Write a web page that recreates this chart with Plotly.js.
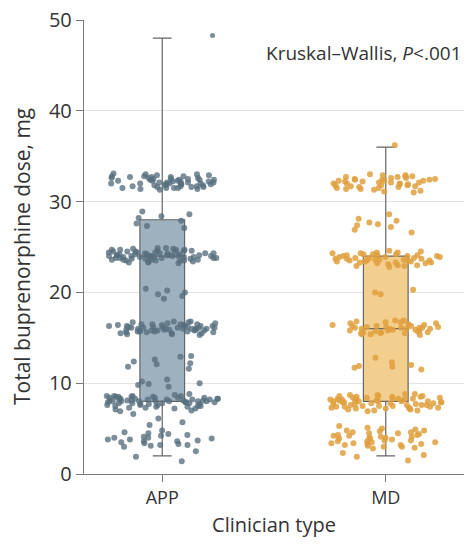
<!DOCTYPE html>
<html>
<head>
<meta charset="utf-8">
<script src="https://cdn.plot.ly/plotly-3.0.1.min.js"></script>
<style>html,body{margin:0;padding:0;background:#fff;}#chart{width:466px;height:546px;}</style>
</head>
<body>
<div id="chart"></div>
<script>
// Categories
const categories = ['APP', 'MD'];
const tickLabelsY = [0, 10, 20, 30, 40, 50];

// Box statistics
const q1Vals = [8, 8];
const medianVals = [24, 16];
const q3Vals = [28, 24];
const lowerVals = [2, 2];
const upperVals = [48, 36];

// Outlier beyond APP upper whisker
const appOutliers = [48.3];

// Individual doses, APP
const appDoses = [
  31.5,32.1,32.8,31.8,32.4,33.0,31.6,32.2,32.7,31.9,32.5,31.4,32.0,32.9,31.7,32.3,32.6,31.5,32.1,33.1,31.8,32.4,32.0,31.6,32.8,32.2,31.9,32.5,31.3,32.7,32.0,31.7,32.3,32.9,31.5,32.1,32.6,31.8,32.4,31.6,33.0,32.2,31.9,32.5,31.4,32.0,32.8,31.7,32.3,32.6,31.5,32.1,32.4,31.9,32.7,
  28.9,28.4,27.6,28.2,27.3,27.9,28.6,27.1,
  23.5,24.1,24.7,23.8,24.3,24.9,23.6,24.0,24.5,23.3,24.2,24.8,23.7,24.4,23.9,24.6,23.4,24.1,24.0,23.8,24.3,24.7,23.5,24.2,23.9,24.5,23.6,24.0,24.8,23.7,24.4,23.2,24.1,24.6,23.9,24.3,23.5,24.0,24.7,23.8,24.2,23.6,24.5,24.0,23.4,24.9,23.9,24.3,23.7,24.1,24.6,23.5,24.0,24.4,23.8,24.2,23.6,24.7,23.9,24.1,23.3,24.5,24.0,23.8,24.3,
  20.2,19.6,20.0,19.3,20.4,19.8,
  15.5,16.1,16.7,15.8,16.3,15.4,16.0,16.5,15.7,16.2,16.8,15.6,16.4,15.9,16.1,15.3,16.6,15.8,16.0,16.3,15.5,16.2,15.9,16.5,15.7,16.0,16.4,15.6,16.1,16.7,15.8,16.3,15.4,16.0,16.6,15.9,16.2,15.7,16.5,16.0,15.5,16.3,15.8,16.1,16.4,15.6,16.0,16.8,15.9,16.2,15.7,16.5,16.1,15.8,16.3,
  13.0,12.6,12.2,11.8,12.4,12.9,11.6,12.1,
  10.4,9.9,10.0,9.6,10.2,9.8,
  7.5,8.1,8.6,7.8,8.3,7.2,8.0,8.5,7.6,8.2,8.8,7.4,8.1,7.9,8.4,7.1,8.6,7.7,8.0,8.3,7.5,8.2,7.9,8.5,7.3,8.0,8.4,7.6,8.1,8.7,7.8,8.3,7.4,8.0,8.6,7.9,8.2,7.0,8.5,7.7,8.0,8.4,7.5,8.1,8.3,7.8,8.6,7.2,8.0,8.2,7.6,8.4,7.9,8.1,7.3,8.5,7.7,8.0,8.3,7.8,
  6.6,5.7,6.1,5.4,6.9,
  3.6,4.1,3.2,4.4,3.8,3.0,4.6,3.5,4.0,3.3,4.2,3.7,4.8,3.4,3.9,4.3,3.1,3.6,4.5,3.8,3.2,4.0,
  2.5,1.9,1.4
];

// Individual doses, MD
const mdDoses = [
  36.2,
  31.2,32.0,32.6,31.6,32.3,32.9,31.4,32.1,32.7,31.8,32.4,31.0,32.2,32.8,31.5,32.0,32.5,31.7,33.0,32.3,31.3,31.9,32.6,32.1,31.6,32.4,31.8,32.8,31.4,32.2,31.9,32.5,31.1,32.0,32.7,31.7,32.3,31.5,32.1,32.9,31.8,32.4,
  28.6,27.7,27.4,26.9,27.2,27.9,26.6,28.1,27.5,
  22.9,23.5,24.1,23.3,23.8,24.4,23.0,23.6,24.2,23.4,23.9,24.6,23.2,23.7,24.0,23.5,24.3,22.8,23.6,24.1,23.3,23.8,24.5,23.1,23.7,24.2,23.4,23.9,23.0,24.0,23.5,24.4,23.2,23.8,24.1,23.6,22.9,24.3,23.4,23.7,24.0,23.3,23.9,23.5,24.2,
  20.0,19.8,20.3,
  15.4,16.0,16.6,15.7,16.2,16.9,15.5,16.1,16.7,15.8,16.3,15.3,16.0,16.5,15.6,16.2,16.8,15.9,16.4,15.5,16.1,15.8,16.6,16.0,15.4,16.3,15.7,16.9,16.1,15.6,16.4,15.9,16.2,15.5,16.7,16.0,15.8,16.3,15.6,16.1,
  12.8,11.9,11.7,12.0,11.5,11.8,12.3,
  7.0,7.6,8.2,8.7,7.3,7.9,8.4,7.1,7.7,8.3,8.8,7.4,8.0,8.5,7.2,7.8,8.1,8.6,7.5,8.0,8.4,6.9,7.6,8.2,8.7,7.3,7.9,8.3,7.0,7.7,8.1,8.6,7.4,8.0,8.5,7.2,7.8,8.2,8.8,7.5,7.9,8.4,7.1,7.6,8.3,8.0,7.3,7.8,8.5,7.5,8.1,7.7,8.6,7.2,8.0,7.9,8.3,7.4,8.2,7.6,
  3.0,3.6,4.2,4.8,3.3,3.9,4.5,5.1,3.1,3.7,4.3,4.9,3.4,4.0,4.6,2.8,3.5,4.1,4.7,3.2,3.8,4.4,5.0,3.0,3.6,4.2,4.8,3.3,3.9,4.5,2.9,3.5,4.1,4.6,3.2,3.7,4.3,3.4,4.0,5.3,
  2.3,1.9,1.5,2.1
];

const fillColors = ['#9db1bf', '#f2cf8f'];
const pointColors = ['rgba(86,110,125,0.78)', 'rgba(225,160,62,0.85)'];
const doseLists = [appDoses, mdDoses];
const FONT = '"Open Sans", "Noto Sans", sans-serif';

const traces = [];
categories.forEach((cat, i) => {
  traces.push({
    type: 'box',
    x: [cat],
    q1: [q1Vals[i]],
    median: [medianVals[i]],
    q3: [q3Vals[i]],
    lowerfence: [lowerVals[i]],
    upperfence: [upperVals[i]],
    boxpoints: false,
    width: 0.2,
    whiskerwidth: 0.42,
    fillcolor: fillColors[i],
    line: {color: '#666', width: 1.2},
    hoverinfo: 'skip',
    showlegend: false
  });
});
categories.forEach((cat, i) => {
  traces.push({
    type: 'box',
    x0: cat,
    y: doseLists[i],
    boxpoints: 'all',
    jitter: 1,
    pointpos: 0,
    width: 0.5,
    fillcolor: 'rgba(0,0,0,0)',
    line: {color: 'rgba(0,0,0,0)', width: 0},
    marker: {color: pointColors[i], size: 6},
    hoverinfo: 'skip',
    showlegend: false
  });
});
// APP outlier, drawn to the right of the whisker as in the reference
traces.push({
  type: 'box',
  x0: categories[0],
  y: appOutliers,
  boxpoints: 'all',
  jitter: 0,
  pointpos: 0.9,
  width: 0.5,
  fillcolor: 'rgba(0,0,0,0)',
  line: {color: 'rgba(0,0,0,0)', width: 0},
  marker: {color: pointColors[0], size: 5},
  hoverinfo: 'skip',
  showlegend: false
});

const layout = {
  width: 466, height: 546,
  margin: {l: 84, r: 2, t: 20, b: 72},
  paper_bgcolor: '#fff', plot_bgcolor: '#fff',
  font: {family: FONT, color: '#333'},
  boxmode: 'overlay',
  showlegend: false,
  hovermode: false,
  xaxis: {
    type: 'category',
    categoryorder: 'array', categoryarray: categories,
    range: [-0.35, 1.35],
    showline: true, linecolor: '#7a7a7a', linewidth: 1.2,
    ticks: 'outside', ticklen: 7, tickcolor: '#7a7a7a',
    showgrid: false, zeroline: false,
    tickfont: {size: 18, color: '#333', family: FONT},
    title: {text: 'Clinician type', font: {size: 20, color: '#333', family: FONT}, standoff: 10}
  },
  yaxis: {
    range: [0, 50],
    tickvals: tickLabelsY,
    showline: true, linecolor: '#7a7a7a', linewidth: 1.2,
    ticks: 'outside', ticklen: 7, tickcolor: '#7a7a7a',
    showgrid: true, gridcolor: '#e4e4e4', gridwidth: 1.2,
    zeroline: false,
    tickfont: {size: 20, color: '#333', family: FONT},
    title: {text: ''}
  },
  annotations: [{
    xref: 'paper', yref: 'paper', x: 1, y: 0.927,
    xanchor: 'right', yanchor: 'middle',
    text: 'Kruskal\u2013Wallis, <i>P</i>&lt;.001',
    showarrow: false,
    font: {size: 19, color: '#333', family: FONT}
  }, {
    xref: 'paper', yref: 'paper', x: -0.163, y: 0.478,
    xanchor: 'center', yanchor: 'middle',
    textangle: -90,
    text: 'Total buprenorphine dose, mg',
    showarrow: false,
    font: {size: 21, color: '#333', family: FONT}
  }]
};

Plotly.newPlot('chart', traces, layout, {staticPlot: true, displayModeBar: false});
</script>
</body>
</html>
